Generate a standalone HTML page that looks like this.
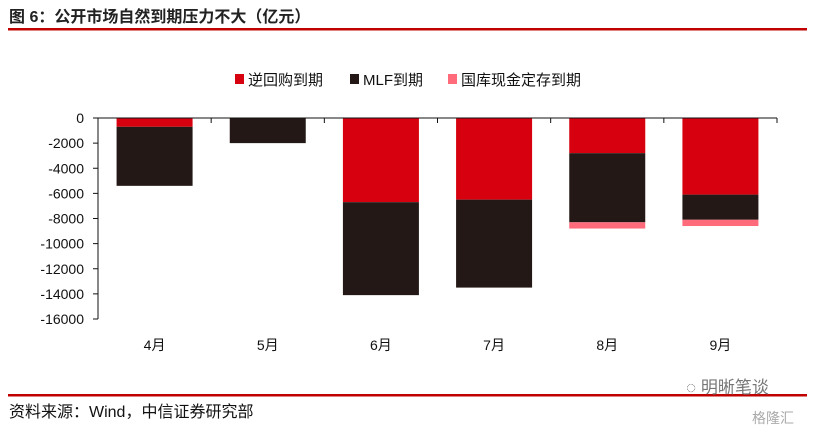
<!DOCTYPE html>
<html><head><meta charset="utf-8"><style>
body{margin:0;background:#fff;}
svg text{font-family:"Liberation Sans","Noto Sans CJK SC",sans-serif;}
</style></head><body>
<svg width="822" height="430">
<text x="9" y="22" font-size="16" font-weight="bold" fill="#222">图 6：公开市场自然到期压力不大（亿元）</text>
<rect x="8" y="28" width="799" height="2.5" fill="#c00000"/>
<g>
<rect x="235" y="74" width="9" height="10" fill="#d7000f"/>
<text x="248" y="85" font-size="15" fill="#111">逆回购到期</text>
<rect x="350" y="74" width="9" height="10" fill="#231815"/>
<text x="363" y="85" font-size="15" fill="#111">MLF到期</text>
<rect x="448" y="74" width="9" height="10" fill="#ff6b7a"/>
<text x="461" y="85" font-size="15" fill="#111">国库现金定存到期</text>
</g>
<g id="plot"></g>
<rect x="8" y="394" width="799" height="2.5" fill="#c00000"/>
<text x="9" y="417" font-size="16" fill="#111">资料来源：Wind，中信证券研究部</text>
<text x="686" y="393" font-size="17" fill="#777">◌ 明晰笔谈</text>
<text x="752" y="423" font-size="14" fill="#aaa">格隆汇</text>
</svg>
<script>
const categories=["4月","5月","6月","7月","8月","9月"];
const repo=[-700,0,-6700,-6500,-2800,-6100];
const mlf=[-4700,-2000,-7400,-7000,-5500,-2000];
const treasury=[0,0,0,0,-500,-500];
const yTicks=[0,-2000,-4000,-6000,-8000,-10000,-12000,-14000,-16000];
const NS="http://www.w3.org/2000/svg";
const g=document.getElementById('plot');
const x0=98,x1=777,y0=118,y1=319,yMin=-16000;
const y=v=>y0+(v/yMin)*(y1-y0);
const band=(x1-x0)/categories.length;
const cx=i=>x0+band*(i+0.5);
function mk(t,a){const e=document.createElementNS(NS,t);for(const k in a)e.setAttribute(k,a[k]);g.appendChild(e);return e;}
yTicks.forEach(v=>{
 const t=mk('text',{x:x0-14,y:y(v)+5,'font-size':14,'text-anchor':'end',fill:'#111'});t.textContent=v;
 
 
 const l=mk('line',{x1:x0-5,x2:x0,y1:y(v),y2:y(v),stroke:'#111'});
 
 
});
const bw=76;
categories.forEach((c,i)=>{
 let base=0;
 [[repo,'#d7000f','repo'],[mlf,'#231815','mlf'],[treasury,'#ff6b7a','treasury']].forEach(([arr,col,n])=>{
  const v=arr[i];if(!v)return;
  const r=mk('rect',{x:cx(i)-bw/2,y:y(base),width:bw,height:y(base+v)-y(base),fill:col});
  
  
  base+=v;
 });
 const t=mk('text',{x:cx(i),y:350,'font-size':14,'text-anchor':'middle',fill:'#111'});t.textContent=c;
 
 
});
for(let i=0;i<=categories.length;i++){
 const l=mk('line',{x1:x0+band*i,x2:x0+band*i,y1:y0,y2:y0+5,stroke:'#111'});
 
 
}
const ya=mk('line',{x1:x0,x2:x0,y1:y0,y2:y1,stroke:'#111'});


const xa=mk('line',{x1:x0,x2:x1,y1:y0,y2:y0,stroke:'#111'});


</script>
</body></html>
